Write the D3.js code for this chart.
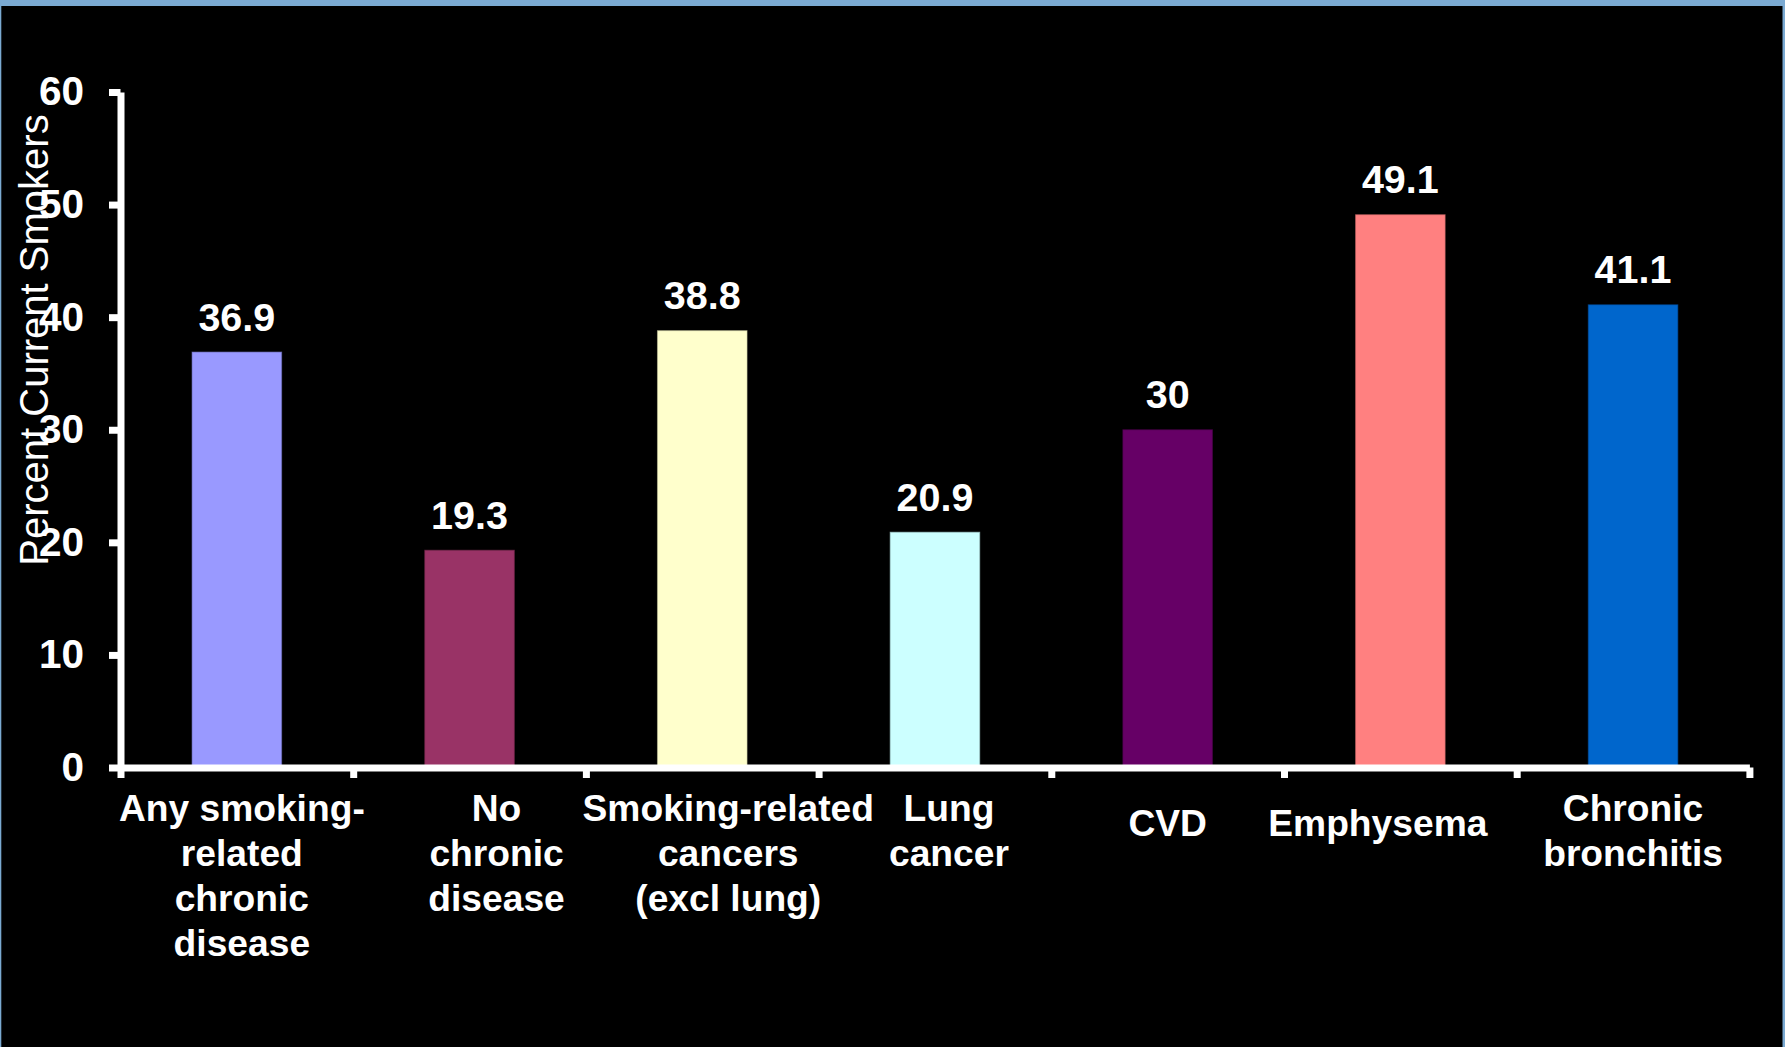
<!DOCTYPE html>
<html>
<head>
<meta charset="utf-8">
<script src="https://cdn.jsdelivr.net/npm/d3@7"></script>
<style>
  html, body { margin: 0; padding: 0; background: #000; }
  svg { display: block; }
  text { font-family: "Liberation Sans", Arial, Helvetica, sans-serif; fill: #fff; }
</style>
</head>
<body>
<script>
// Share of current smokers by chronic-disease status
const categories = [
  "Any smoking-related chronic disease",
  "No chronic disease",
  "Smoking-related cancers (excl lung)",
  "Lung cancer",
  "CVD",
  "Emphysema",
  "Chronic bronchitis"
];
const categoryLines = [
  ["Any smoking-", "related", "chronic", "disease"],
  ["No", "chronic", "disease"],
  ["Smoking-related", "cancers", "(excl lung)"],
  ["Lung", "cancer"],
  ["CVD"],
  ["Emphysema"],
  ["Chronic", "bronchitis"]
];
const values = [36.9, 19.3, 38.8, 20.9, 30, 49.1, 41.1];
const barColors = ["#9999FF", "#993366", "#FFFFCC", "#CCFFFF", "#660066", "#FF8080", "#0066CC"];
const yTicks = [0, 10, 20, 30, 40, 50, 60];
const yTitle = "Percent Current Smokers";

// Layout
const W = 1785, H = 1047;
const plot = { left: 120.5, right: 1749.4, top: 92, bottom: 767.5 };
const labelShift = [5, 27, 26, 14, 0, -22.5, 0];   // horizontal nudge of category text
const axisW = 7;

const svg = d3.select("body").append("svg")
  .attr("width", W).attr("height", H);

// frame: light blue edge around a black panel
svg.append("rect").attr("width", W).attr("height", H).attr("fill", "#7BAAD2");
svg.append("rect").attr("x", 1.3).attr("y", 6).attr("width", 1781.2).attr("height", H - 6).attr("fill", "#000");

const x = d3.scaleBand()
  .domain(categories)
  .range([plot.left, plot.right])
  .paddingInner(0.615)
  .paddingOuter(0.3075);

const y = d3.scaleLinear()
  .domain([0, 60])
  .range([plot.bottom, plot.top]);

// category boundaries for the x-axis tick marks
const edge = d3.scaleLinear().domain([0, categories.length]).range([plot.left, plot.right]);

// bars
svg.append("g").selectAll("rect")
  .data(values)
  .join("rect")
  .attr("x", (d, i) => x(categories[i]))
  .attr("y", d => y(d))
  .attr("width", x.bandwidth())
  .attr("height", d => y(0) - y(d))
  .attr("fill", (d, i) => barColors[i])
  .attr("stroke", (d, i) => d3.color(barColors[i]).darker(0.7))
  .attr("stroke-opacity", 0.6)
  .attr("stroke-width", 1);

// value labels
svg.append("g").selectAll("text")
  .data(values)
  .join("text")
  .attr("x", (d, i) => x(categories[i]) + x.bandwidth() / 2)
  .attr("y", d => y(d) - 21.5)
  .attr("text-anchor", "middle")
  .attr("font-size", 39.5)
  .attr("font-weight", "bold")
  .text(d => String(d));

// y axis
const yAxis = svg.append("g")
  .attr("transform", `translate(${plot.left},0)`)
  .call(d3.axisLeft(y).tickValues(yTicks).tickSize(11.5).tickSizeOuter(0).tickPadding(25));
yAxis.select(".domain").attr("stroke", "#fff").attr("stroke-width", axisW);
yAxis.selectAll(".tick line").attr("stroke", "#fff").attr("stroke-width", axisW);
yAxis.selectAll(".tick text")
  .attr("fill", "#fff")
  .attr("font-size", 40.5)
  .attr("font-weight", "bold")
  .style("font-family", "'Liberation Sans', Arial, sans-serif");

// x axis with tick marks between categories
const xAxis = svg.append("g")
  .attr("transform", `translate(0,${plot.bottom})`)
  .call(d3.axisBottom(edge).tickValues(d3.range(categories.length + 1)).tickFormat("").tickSize(10.5).tickSizeOuter(0));
xAxis.select(".domain").attr("stroke", "#fff").attr("stroke-width", axisW);
xAxis.selectAll(".tick line").attr("stroke", "#fff").attr("stroke-width", axisW);

// category labels
const catG = svg.append("g");
categoryLines.forEach((lines, i) => {
  const cx = x(categories[i]) + x.bandwidth() / 2 + labelShift[i];
  const firstBase = lines.length === 1 ? 836 : 821;
  const t = catG.append("text")
    .attr("text-anchor", "middle")
    .attr("font-size", 37.2)
    .attr("font-weight", "bold");
  lines.forEach((ln, j) => {
    t.append("tspan").attr("x", cx).attr("y", firstBase + j * 45).text(ln);
  });
});

// y axis title
svg.append("text")
  .attr("transform", "translate(48,340) rotate(-90)")
  .attr("text-anchor", "middle")
  .attr("font-size", 40)
  .text(yTitle);
</script>
</body>
</html>
